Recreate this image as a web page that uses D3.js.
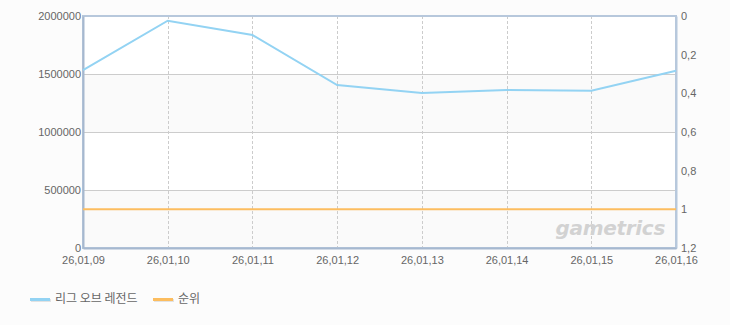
<!DOCTYPE html>
<html>
<head>
<meta charset="utf-8">
<script src="https://cdn.jsdelivr.net/npm/d3@7"></script>
<style>
  body { margin: 0; background: #fcfcfc; font-family: "DejaVu Sans", sans-serif; }
  .tick text { fill: #666; font-size: 11px; }
</style>
</head>
<body>
<div id="chart"></div>
<script>
// data
var dates = ["26,01,09", "26,01,10", "26,01,11", "26,01,12", "26,01,13", "26,01,14", "26,01,15", "26,01,16"];
var viewers = [1534000, 1959000, 1836000, 1405000, 1336000, 1362000, 1356000, 1528000];
var rank = [1, 1, 1, 1, 1, 1, 1, 1];
var leftTicks = [0, 500000, 1000000, 1500000, 2000000];
var rightTicks = [0, 0.2, 0.4, 0.6, 0.8, 1, 1.2];
var seriesNames = ["리그 오브 레전드", "순위"];
var seriesColors = ["#93d3f3", "#fcbd5f"];

var margin = {top: 16, right: 54, bottom: 77, left: 83},
  width = 730 - margin.left - margin.right,
  height = 325 - margin.top - margin.bottom;

var svg = d3.select("#chart")
.append("svg")
  .attr("width", 730)
  .attr("height", 325)
.append("g")
  .attr("transform", "translate(" + margin.left + "," + margin.top + ")");

var x = d3.scalePoint()
  .domain(dates)
  .range([0, width]);

var y = d3.scaleLinear()
  .domain([0, 2000000])
  .range([height, 0]);

var y2 = d3.scaleLinear()
  .domain([0, 1.2])
  .range([0, height]);

// alternating bands
svg.append("g")
  .selectAll("rect")
  .data(leftTicks.slice(0, -1))
  .enter()
  .append("rect")
    .attr("x", 0)
    .attr("width", width)
    .attr("y", function(d) { return y(d + 500000); })
    .attr("height", function(d) { return y(d) - y(d + 500000); })
    .attr("fill", function(d, i) { return i % 2 == 0 ? "#fafafa" : "#ffffff"; });

// horizontal grid
svg.append("g")
  .selectAll("line")
  .data(leftTicks)
  .enter()
  .append("line")
    .attr("x1", 0)
    .attr("x2", width)
    .attr("y1", function(d) { return Math.round(y(d)) + 0.5; })
    .attr("y2", function(d) { return Math.round(y(d)) + 0.5; })
    .attr("stroke", "#cccccc");

// vertical dashed grid
svg.append("g")
  .selectAll("line")
  .data(dates)
  .enter()
  .append("line")
    .attr("x1", function(d) { return Math.round(x(d)) + 0.5; })
    .attr("x2", function(d) { return Math.round(x(d)) + 0.5; })
    .attr("y1", 0)
    .attr("y2", height)
    .attr("stroke", "#cccccc")
    .attr("stroke-dasharray", "3,2");

// watermark
svg.append("text")
  .attr("x", width - 11)
  .attr("y", height - 13)
  .attr("text-anchor", "end")
  .attr("font-family", "Verdana, 'DejaVu Sans', sans-serif")
  .attr("font-size", 20)
  .attr("font-weight", "bold")
  .attr("font-style", "italic")
  .attr("fill", "#d2d2d2")
  .attr("letter-spacing", "-0.3")
  .text("gametrics");

// frame
svg.append("rect")
  .attr("x", 0)
  .attr("y", 0)
  .attr("width", width)
  .attr("height", height)
  .attr("fill", "none")
  .attr("stroke", "#b7c8dc")
  .attr("stroke-width", 2);

// axes
var gl = svg.append("g")
  .call(d3.axisLeft(y).tickValues(leftTicks).tickSize(0).tickPadding(2).tickFormat(d3.format("d")));
gl.select(".domain").attr("stroke", "#a6b8cf").attr("stroke-width", 2);

var gr = svg.append("g")
  .attr("transform", "translate(" + width + ",0)")
  .call(d3.axisRight(y2).tickValues(rightTicks).tickSize(0).tickPadding(5)
    .tickFormat(function(d) { return String(+d.toFixed(1)).replace(".", ","); }));
gr.select(".domain").attr("stroke", "#b7c8dc").attr("stroke-width", 2);

var gb = svg.append("g")
  .attr("transform", "translate(0," + height + ")")
  .call(d3.axisBottom(x).tickSize(0).tickPadding(8));
gb.select(".domain").attr("stroke", "#a6b8cf").attr("stroke-width", 2);

// lines
var line1 = d3.line()
  .x(function(d, i) { return x(dates[i]); })
  .y(function(d) { return y(d); });

var line2 = d3.line()
  .x(function(d, i) { return x(dates[i]); })
  .y(function(d) { return y2(d); });

svg.append("path")
  .datum(viewers)
  .attr("fill", "none")
  .attr("stroke", seriesColors[0])
  .attr("stroke-width", 2)
  .attr("d", line1);

svg.append("path")
  .datum(rank)
  .attr("fill", "none")
  .attr("stroke", seriesColors[1])
  .attr("stroke-width", 2)
  .attr("d", line2);

// legend
var legend = d3.select("svg").append("g")
  .attr("transform", "translate(30,299)");

var lx = [0, 123];
seriesNames.forEach(function(name, i) {
  var g = legend.append("g").attr("transform", "translate(" + lx[i] + ",0)");
  g.append("rect").attr("x", 1).attr("y", 0).attr("width", 20).attr("height", 3).attr("fill", "#e2e2e2");
  g.append("rect").attr("x", 0).attr("y", -1).attr("width", 20).attr("height", 3).attr("fill", seriesColors[i]);
  g.append("text")
    .attr("x", 25)
    .attr("y", 4)
    .attr("font-size", 12)
    .attr("font-family", "'Noto Sans CJK KR', sans-serif")
    .attr("fill", "#666")
    .text(name);
});
</script>
</body>
</html>
